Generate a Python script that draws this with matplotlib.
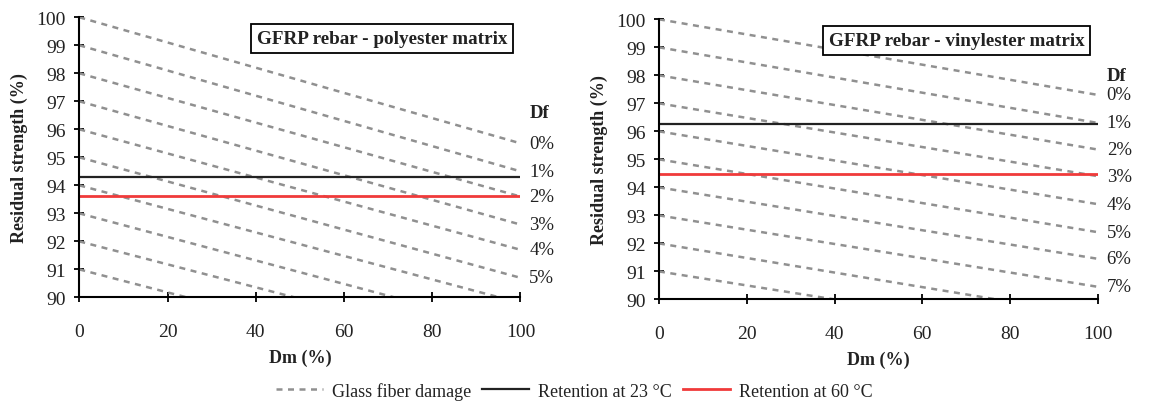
import numpy as np
import matplotlib
matplotlib.use("Agg")
import matplotlib.pyplot as plt
from matplotlib.lines import Line2D

plt.rcParams['font.family'] = ['Liberation Serif', 'DejaVu Serif']

# Dm (%) end points of every line
dm = [0, 100]

# glass fiber damage lines: value at Dm=0 and at Dm=100
poly_start = [100, 99, 98, 97, 96, 95, 94, 93, 92, 91]
poly_end = [95.5, 94.5, 93.6, 92.6, 91.7, 90.7, 89.8, 88.8, 87.9, 86.9]
vinyl_start = [100, 99, 98, 97, 96, 95, 94, 93, 92, 91]
vinyl_end = [97.3, 96.3, 95.35, 94.4, 93.4, 92.4, 91.45, 90.45, 89.4, 88.5]

poly_df = [0, 1, 2, 3, 4, 5]
vinyl_df = [0, 1, 2, 3, 4, 5, 6, 7]

poly_ret23 = 94.3
poly_ret60 = 93.62
vinyl_ret23 = 96.25
vinyl_ret60 = 94.48

panels = [
    ("GFRP rebar - polyester matrix", poly_start, poly_end, poly_df,
     poly_ret23, poly_ret60, 96.6, [0.069, 0.265, 0.384, 0.69]),
    ("GFRP rebar - vinylester matrix", vinyl_start, vinyl_end, vinyl_df,
     vinyl_ret23, vinyl_ret60, 98.0, [0.5735, 0.26, 0.382, 0.69]),
]

txt = '#222222'
fig = plt.figure(figsize=(11.49, 4.06), dpi=100)

for title, starts, ends, dfs, r23, r60, df_y, rect in panels:
    ax = fig.add_axes(rect)
    for s, e in zip(starts, ends):
        ax.plot(dm, [s, e], color='#909090', lw=1.8, dashes=(2.4, 2.2))
    ax.plot(dm, [r23, r23], color='#222222', lw=1.6)
    ax.plot(dm, [r60, r60], color='#f03a3a', lw=2.0)

    for d, e in zip(dfs, ends):
        ax.text(102, e, f"{d}%", va='center', ha='left', fontsize=13.5,
                color=txt, clip_on=False)
    ax.text(102, df_y, "Df", va='center', ha='left', fontsize=13.5,
            fontweight='bold', color=txt, clip_on=False)

    ax.text(0.97, 0.955, title, transform=ax.transAxes, ha='right', va='top',
            fontsize=13.8, fontweight='bold', color=txt,
            bbox=dict(boxstyle='square,pad=0.3', fc='white', ec='black', lw=1.3))

    ax.set_xlim(0, 100)
    ax.set_ylim(90, 100)
    ax.set_xticks(np.arange(0, 101, 20))
    ax.set_yticks(np.arange(90, 101, 1))
    for sp in ['top', 'right']:
        ax.spines[sp].set_visible(False)
    for sp in ['left', 'bottom']:
        ax.spines[sp].set_linewidth(1.5)
    ax.tick_params(direction='inout', length=7, width=1.3, labelsize=14,
                   labelcolor=txt, pad=6)
    ax.tick_params(axis='x', pad=15)
    ax.set_xlabel("Dm (%)", fontsize=13, fontweight='bold', color=txt, labelpad=6)
    ax.set_ylabel("Residual strength (%)", fontsize=13, fontweight='bold',
                  color=txt, labelpad=6)

handles = [
    Line2D([], [], color='#909090', lw=1.8, dashes=(2.4, 2.2)),
    Line2D([], [], color='#222222', lw=1.6),
    Line2D([], [], color='#f03a3a', lw=2.0),
]
labels = ["Glass fiber damage", "Retention at 23 °C", "Retention at 60 °C"]
fig.legend(handles, labels, loc='center', bbox_to_anchor=(0.5, 0.035), ncol=3,
           frameon=False, fontsize=13, handlelength=2.6, columnspacing=0.6,
           handletextpad=0.5, labelcolor=txt)

fig.savefig("out.png", dpi=100)
